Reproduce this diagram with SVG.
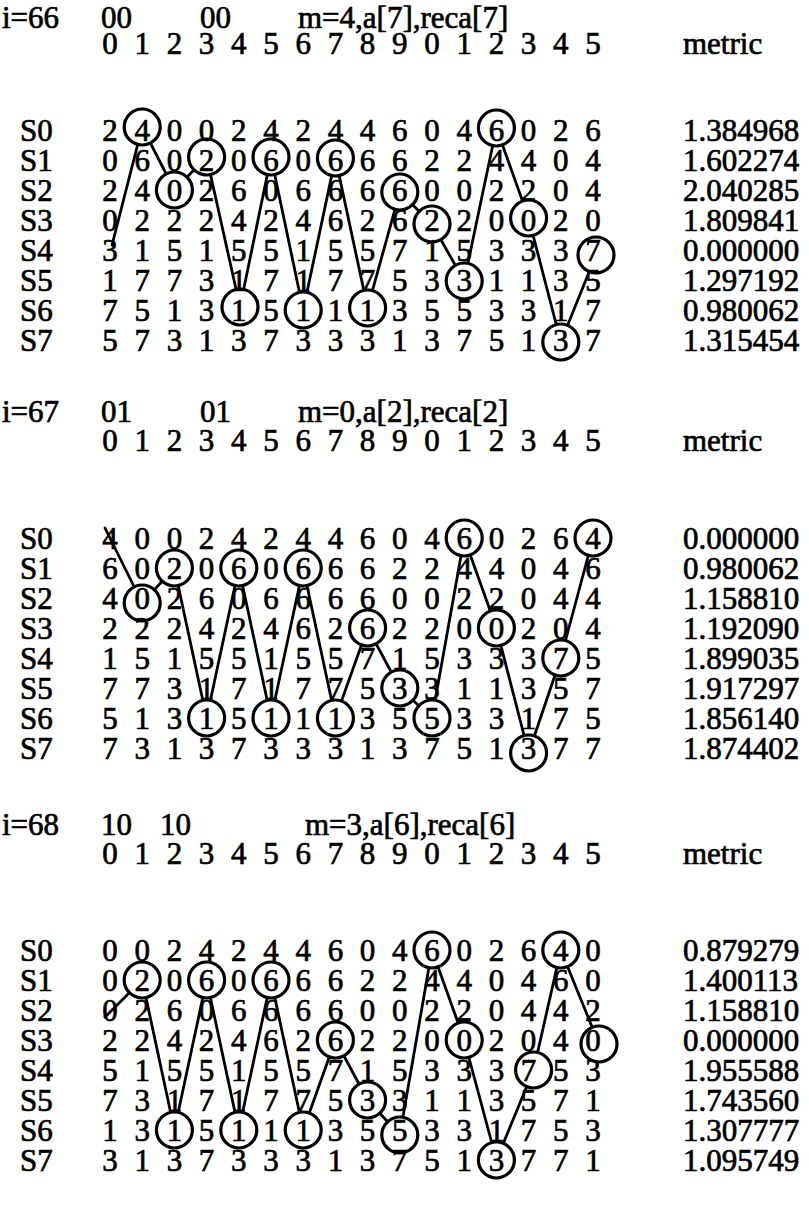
<svg xmlns="http://www.w3.org/2000/svg" width="809" height="1215" viewBox="0 0 809 1215">
<style>
text { font-family: "Liberation Serif", "Times New Roman", serif; font-size: 31px; fill: #000; stroke: #000; stroke-width: 0.7px; }
.row, .n text { text-anchor: middle; }
.n circle { fill: #fff; stroke: #000; stroke-width: 3.2; }
.edges line { stroke: #000; stroke-width: 2.8; stroke-linecap: round; }
</style>
<rect width="809" height="1215" fill="#fff"/>

<!-- ===== i=66 ===== -->
<g id="block-i66">
  <g id="edges-i66" class="edges">
    <line x1="112" y1="245" x2="142.2" y2="127"/>
    <line x1="142.2" y1="127" x2="174.4" y2="190"/>
    <line x1="174.4" y1="190" x2="206.6" y2="157"/>
    <line x1="206.6" y1="157" x2="240" y2="307"/>
    <line x1="240" y1="307" x2="271" y2="157"/>
    <line x1="271" y1="157" x2="303.2" y2="310"/>
    <line x1="303.2" y1="310" x2="335.4" y2="158"/>
    <line x1="335.4" y1="158" x2="367.6" y2="308"/>
    <line x1="367.6" y1="308" x2="399.8" y2="192"/>
    <line x1="399.8" y1="192" x2="432" y2="224"/>
    <line x1="432" y1="224" x2="464.2" y2="281"/>
    <line x1="464.2" y1="281" x2="496.4" y2="128"/>
    <line x1="496.4" y1="128" x2="528.6" y2="218"/>
    <line x1="528.6" y1="218" x2="560.8" y2="342"/>
    <line x1="560.8" y1="342" x2="596" y2="255"/>
  </g>
  <g id="n66-c1" class="n"><circle cx="142.2" cy="127" r="18"/><text x="142.2" y="140.5">4</text></g>
  <g id="n66-c2" class="n"><circle cx="174.4" cy="190" r="18"/><text x="174.4" y="200.5">0</text></g>
  <g id="n66-c3" class="n"><circle cx="206.6" cy="157" r="18"/><text x="206.6" y="170.5">2</text></g>
  <g id="n66-c4" class="n"><circle cx="240" cy="307" r="18"/><text x="238.8" y="320.5">1</text></g>
  <g id="n66-c5" class="n"><circle cx="271" cy="157" r="18"/><text x="271" y="170.5">6</text></g>
  <g id="n66-c6" class="n"><circle cx="303.2" cy="310" r="18"/><text x="303.2" y="320.5">1</text></g>
  <g id="n66-c7" class="n"><circle cx="335.4" cy="158" r="18"/><text x="335.4" y="170.5">6</text></g>
  <g id="n66-c8" class="n"><circle cx="367.6" cy="308" r="18"/><text x="367.6" y="320.5">1</text></g>
  <g id="n66-c9" class="n"><circle cx="399.8" cy="192" r="18"/><text x="399.8" y="200.5">6</text></g>
  <g id="n66-c10" class="n"><circle cx="432" cy="224" r="18"/><text x="432" y="230.5">2</text></g>
  <g id="n66-c11" class="n"><circle cx="464.2" cy="281" r="18"/><text x="464.2" y="290.5">3</text></g>
  <g id="n66-c12" class="n"><circle cx="496.4" cy="128" r="18"/><text x="496.4" y="140.5">6</text></g>
  <g id="n66-c13" class="n"><circle cx="528.6" cy="218" r="18"/><text x="528.6" y="230.5">0</text></g>
  <g id="n66-c14" class="n"><circle cx="560.8" cy="342" r="18"/><text x="560.8" y="350.5">3</text></g>
  <g id="n66-c15" class="n"><circle cx="596" cy="255" r="18"/><text x="593" y="260.5">7</text></g>
  <g id="text-i66">
    <text x="2" y="28">i=66</text>
    <text x="101" y="28">00</text>
    <text x="200" y="28">00</text>
    <text x="298" y="28">m=4,a[7],reca[7]</text>
    <text class="row" x="110 142.2 174.4 206.6 238.8 271 303.2 335.4 367.6 399.8 432 464.2 496.4 528.6 560.8 593" y="54">0123456789012345</text>
    <text x="683" y="54">metric</text>
    <text x="20" y="140.5">S0</text>
    <text x="20" y="170.5">S1</text>
    <text x="20" y="200.5">S2</text>
    <text x="20" y="230.5">S3</text>
    <text x="20" y="260.5">S4</text>
    <text x="20" y="290.5">S5</text>
    <text x="20" y="320.5">S6</text>
    <text x="20" y="350.5">S7</text>
    <text class="row" x="110 174.4 206.6 238.8 271 303.2 335.4 367.6 399.8 432 464.2 528.6 560.8 593" y="140.5">20024244604026</text>
    <text class="row" x="110 142.2 174.4 238.8 303.2 367.6 399.8 432 464.2 496.4 528.6 560.8 593" y="170.5">0600066224404</text>
    <text class="row" x="110 142.2 206.6 238.8 271 303.2 335.4 367.6 432 464.2 496.4 528.6 560.8 593" y="200.5">24260666002204</text>
    <text class="row" x="110 142.2 174.4 206.6 238.8 271 303.2 335.4 367.6 399.8 464.2 496.4 560.8 593" y="230.5">02224246262020</text>
    <text class="row" x="110 142.2 174.4 206.6 238.8 271 303.2 335.4 367.6 399.8 432 464.2 496.4 528.6 560.8" y="260.5">315155155715333</text>
    <text class="row" x="110 142.2 174.4 206.6 238.8 271 303.2 335.4 367.6 399.8 432 496.4 528.6 560.8 593" y="290.5">177317177531135</text>
    <text class="row" x="110 142.2 174.4 206.6 271 335.4 399.8 432 464.2 496.4 528.6 560.8 593" y="320.5">7513513553317</text>
    <text class="row" x="110 142.2 174.4 206.6 238.8 271 303.2 335.4 367.6 399.8 432 464.2 496.4 528.6 593" y="350.5">573137333137517</text>
    <text x="683" y="140.5">1.384968</text>
    <text x="683" y="170.5">1.602274</text>
    <text x="683" y="200.5">2.040285</text>
    <text x="683" y="230.5">1.809841</text>
    <text x="683" y="260.5">0.000000</text>
    <text x="683" y="290.5">1.297192</text>
    <text x="683" y="320.5">0.980062</text>
    <text x="683" y="350.5">1.315454</text>
  </g>
</g>

<!-- ===== i=67 ===== -->
<g id="block-i67">
  <g id="edges-i67" class="edges">
    <line x1="105" y1="528" x2="142.2" y2="603"/>
    <line x1="142.2" y1="603" x2="174.4" y2="568"/>
    <line x1="174.4" y1="568" x2="206.6" y2="718"/>
    <line x1="206.6" y1="718" x2="238.8" y2="568"/>
    <line x1="238.8" y1="568" x2="271" y2="718"/>
    <line x1="271" y1="718" x2="303.2" y2="568"/>
    <line x1="303.2" y1="568" x2="335.4" y2="718"/>
    <line x1="335.4" y1="718" x2="367.6" y2="628"/>
    <line x1="367.6" y1="628" x2="399.8" y2="688"/>
    <line x1="399.8" y1="688" x2="432" y2="718"/>
    <line x1="432" y1="718" x2="464.2" y2="538"/>
    <line x1="464.2" y1="538" x2="496.4" y2="628"/>
    <line x1="496.4" y1="628" x2="528.6" y2="753"/>
    <line x1="528.6" y1="753" x2="560.8" y2="658"/>
    <line x1="560.8" y1="658" x2="593" y2="538"/>
  </g>
  <g id="n67-c1" class="n"><circle cx="142.2" cy="603" r="18"/><text x="142.2" y="608.5">0</text></g>
  <g id="n67-c2" class="n"><circle cx="174.4" cy="568" r="18"/><text x="174.4" y="578.5">2</text></g>
  <g id="n67-c3" class="n"><circle cx="206.6" cy="718" r="18"/><text x="206.6" y="728.5">1</text></g>
  <g id="n67-c4" class="n"><circle cx="238.8" cy="568" r="18"/><text x="238.8" y="578.5">6</text></g>
  <g id="n67-c5" class="n"><circle cx="271" cy="718" r="18"/><text x="271" y="728.5">1</text></g>
  <g id="n67-c6" class="n"><circle cx="303.2" cy="568" r="18"/><text x="303.2" y="578.5">6</text></g>
  <g id="n67-c7" class="n"><circle cx="335.4" cy="718" r="18"/><text x="335.4" y="728.5">1</text></g>
  <g id="n67-c8" class="n"><circle cx="367.6" cy="628" r="18"/><text x="367.6" y="638.5">6</text></g>
  <g id="n67-c9" class="n"><circle cx="399.8" cy="688" r="18"/><text x="399.8" y="698.5">3</text></g>
  <g id="n67-c10" class="n"><circle cx="432" cy="718" r="18"/><text x="432" y="728.5">5</text></g>
  <g id="n67-c11" class="n"><circle cx="464.2" cy="538" r="18"/><text x="464.2" y="548.5">6</text></g>
  <g id="n67-c12" class="n"><circle cx="496.4" cy="628" r="18"/><text x="496.4" y="638.5">0</text></g>
  <g id="n67-c13" class="n"><circle cx="528.6" cy="753" r="18"/><text x="528.6" y="758.5">3</text></g>
  <g id="n67-c14" class="n"><circle cx="560.8" cy="658" r="18"/><text x="560.8" y="668.5">7</text></g>
  <g id="n67-c15" class="n"><circle cx="593" cy="538" r="18"/><text x="593" y="548.5">4</text></g>
  <g id="text-i67">
    <text x="2" y="422">i=67</text>
    <text x="101" y="422">01</text>
    <text x="200" y="422">01</text>
    <text x="298" y="422">m=0,a[2],reca[2]</text>
    <text class="row" x="110 142.2 174.4 206.6 238.8 271 303.2 335.4 367.6 399.8 432 464.2 496.4 528.6 560.8 593" y="451">0123456789012345</text>
    <text x="683" y="451">metric</text>
    <text x="20" y="548.5">S0</text>
    <text x="20" y="578.5">S1</text>
    <text x="20" y="608.5">S2</text>
    <text x="20" y="638.5">S3</text>
    <text x="20" y="668.5">S4</text>
    <text x="20" y="698.5">S5</text>
    <text x="20" y="728.5">S6</text>
    <text x="20" y="758.5">S7</text>
    <text class="row" x="110 142.2 174.4 206.6 238.8 271 303.2 335.4 367.6 399.8 432 496.4 528.6 560.8" y="548.5">40024244604026</text>
    <text class="row" x="110 142.2 206.6 271 335.4 367.6 399.8 432 464.2 496.4 528.6 560.8 593" y="578.5">6000662244046</text>
    <text class="row" x="110 174.4 206.6 238.8 271 303.2 335.4 367.6 399.8 432 464.2 496.4 528.6 560.8 593" y="608.5">426066660022044</text>
    <text class="row" x="110 142.2 174.4 206.6 238.8 271 303.2 335.4 399.8 432 464.2 528.6 560.8 593" y="638.5">22242462220204</text>
    <text class="row" x="110 142.2 174.4 206.6 238.8 271 303.2 335.4 367.6 399.8 432 464.2 496.4 528.6 593" y="668.5">151551557153335</text>
    <text class="row" x="110 142.2 174.4 206.6 238.8 271 303.2 335.4 367.6 432 464.2 496.4 528.6 560.8 593" y="698.5">773171775311357</text>
    <text class="row" x="110 142.2 174.4 238.8 303.2 367.6 399.8 464.2 496.4 528.6 560.8 593" y="728.5">513513533175</text>
    <text class="row" x="110 142.2 174.4 206.6 238.8 271 303.2 335.4 367.6 399.8 432 464.2 496.4 560.8 593" y="758.5">731373331375177</text>
    <text x="683" y="548.5">0.000000</text>
    <text x="683" y="578.5">0.980062</text>
    <text x="683" y="608.5">1.158810</text>
    <text x="683" y="638.5">1.192090</text>
    <text x="683" y="668.5">1.899035</text>
    <text x="683" y="698.5">1.917297</text>
    <text x="683" y="728.5">1.856140</text>
    <text x="683" y="758.5">1.874402</text>
  </g>
</g>

<!-- ===== i=68 ===== -->
<g id="block-i68">
  <g id="edges-i68" class="edges">
    <line x1="105" y1="1017" x2="142.2" y2="980"/>
    <line x1="142.2" y1="980" x2="174.4" y2="1130"/>
    <line x1="174.4" y1="1130" x2="206.6" y2="980"/>
    <line x1="206.6" y1="980" x2="238.8" y2="1130"/>
    <line x1="238.8" y1="1130" x2="271" y2="980"/>
    <line x1="271" y1="980" x2="303.2" y2="1130"/>
    <line x1="303.2" y1="1130" x2="335.4" y2="1040"/>
    <line x1="335.4" y1="1040" x2="367.6" y2="1100"/>
    <line x1="367.6" y1="1100" x2="399.8" y2="1135"/>
    <line x1="399.8" y1="1135" x2="432" y2="950"/>
    <line x1="432" y1="950" x2="464.2" y2="1040"/>
    <line x1="464.2" y1="1040" x2="496.4" y2="1160"/>
    <line x1="496.4" y1="1160" x2="533.6" y2="1070"/>
    <line x1="533.6" y1="1070" x2="560.8" y2="950"/>
    <line x1="560.8" y1="950" x2="599" y2="1044"/>
  </g>
  <g id="n68-c1" class="n"><circle cx="142.2" cy="980" r="18"/><text x="142.2" y="990.5">2</text></g>
  <g id="n68-c2" class="n"><circle cx="174.4" cy="1130" r="18"/><text x="174.4" y="1140.5">1</text></g>
  <g id="n68-c3" class="n"><circle cx="206.6" cy="980" r="18"/><text x="206.6" y="990.5">6</text></g>
  <g id="n68-c4" class="n"><circle cx="238.8" cy="1130" r="18"/><text x="238.8" y="1140.5">1</text></g>
  <g id="n68-c5" class="n"><circle cx="271" cy="980" r="18"/><text x="271" y="990.5">6</text></g>
  <g id="n68-c6" class="n"><circle cx="303.2" cy="1130" r="18"/><text x="303.2" y="1140.5">1</text></g>
  <g id="n68-c7" class="n"><circle cx="335.4" cy="1040" r="18"/><text x="335.4" y="1050.5">6</text></g>
  <g id="n68-c8" class="n"><circle cx="367.6" cy="1100" r="18"/><text x="367.6" y="1110.5">3</text></g>
  <g id="n68-c9" class="n"><circle cx="399.8" cy="1135" r="18"/><text x="399.8" y="1140.5">5</text></g>
  <g id="n68-c10" class="n"><circle cx="432" cy="950" r="18"/><text x="432" y="960.5">6</text></g>
  <g id="n68-c11" class="n"><circle cx="464.2" cy="1040" r="18"/><text x="464.2" y="1050.5">0</text></g>
  <g id="n68-c12" class="n"><circle cx="496.4" cy="1160" r="18"/><text x="496.4" y="1170.5">3</text></g>
  <g id="n68-c13" class="n"><circle cx="533.6" cy="1070" r="18"/><text x="528.6" y="1080.5">7</text></g>
  <g id="n68-c14" class="n"><circle cx="560.8" cy="950" r="18"/><text x="560.8" y="960.5">4</text></g>
  <g id="n68-c15" class="n"><circle cx="599" cy="1044" r="18"/><text x="593" y="1050.5">0</text></g>
  <g id="text-i68">
    <text x="2" y="835">i=68</text>
    <text x="101" y="835">10</text>
    <text x="160" y="835">10</text>
    <text x="305" y="835">m=3,a[6],reca[6]</text>
    <text class="row" x="110 142.2 174.4 206.6 238.8 271 303.2 335.4 367.6 399.8 432 464.2 496.4 528.6 560.8 593" y="864">0123456789012345</text>
    <text x="683" y="864">metric</text>
    <text x="20" y="960.5">S0</text>
    <text x="20" y="990.5">S1</text>
    <text x="20" y="1020.5">S2</text>
    <text x="20" y="1050.5">S3</text>
    <text x="20" y="1080.5">S4</text>
    <text x="20" y="1110.5">S5</text>
    <text x="20" y="1140.5">S6</text>
    <text x="20" y="1170.5">S7</text>
    <text class="row" x="110 142.2 174.4 206.6 238.8 271 303.2 335.4 367.6 399.8 464.2 496.4 528.6 593" y="960.5">00242446040260</text>
    <text class="row" x="110 174.4 238.8 303.2 335.4 367.6 399.8 432 464.2 496.4 528.6 560.8 593" y="990.5">0006622440460</text>
    <text class="row" x="110 142.2 174.4 206.6 238.8 271 303.2 335.4 367.6 399.8 432 464.2 496.4 528.6 560.8 593" y="1020.5">0260666600220442</text>
    <text class="row" x="110 142.2 174.4 206.6 238.8 271 303.2 367.6 399.8 432 496.4 528.6 560.8" y="1050.5">2242462220204</text>
    <text class="row" x="110 142.2 174.4 206.6 238.8 271 303.2 335.4 367.6 399.8 432 464.2 496.4 560.8 593" y="1080.5">515515571533353</text>
    <text class="row" x="110 142.2 174.4 206.6 238.8 271 303.2 335.4 399.8 432 464.2 496.4 528.6 560.8 593" y="1110.5">731717753113571</text>
    <text class="row" x="110 142.2 206.6 271 335.4 367.6 432 464.2 496.4 528.6 560.8 593" y="1140.5">135135331753</text>
    <text class="row" x="110 142.2 174.4 206.6 238.8 271 303.2 335.4 367.6 399.8 432 464.2 528.6 560.8 593" y="1170.5">313733313751771</text>
    <text x="683" y="960.5">0.879279</text>
    <text x="683" y="990.5">1.400113</text>
    <text x="683" y="1020.5">1.158810</text>
    <text x="683" y="1050.5">0.000000</text>
    <text x="683" y="1080.5">1.955588</text>
    <text x="683" y="1110.5">1.743560</text>
    <text x="683" y="1140.5">1.307777</text>
    <text x="683" y="1170.5">1.095749</text>
  </g>
</g>
</svg>
